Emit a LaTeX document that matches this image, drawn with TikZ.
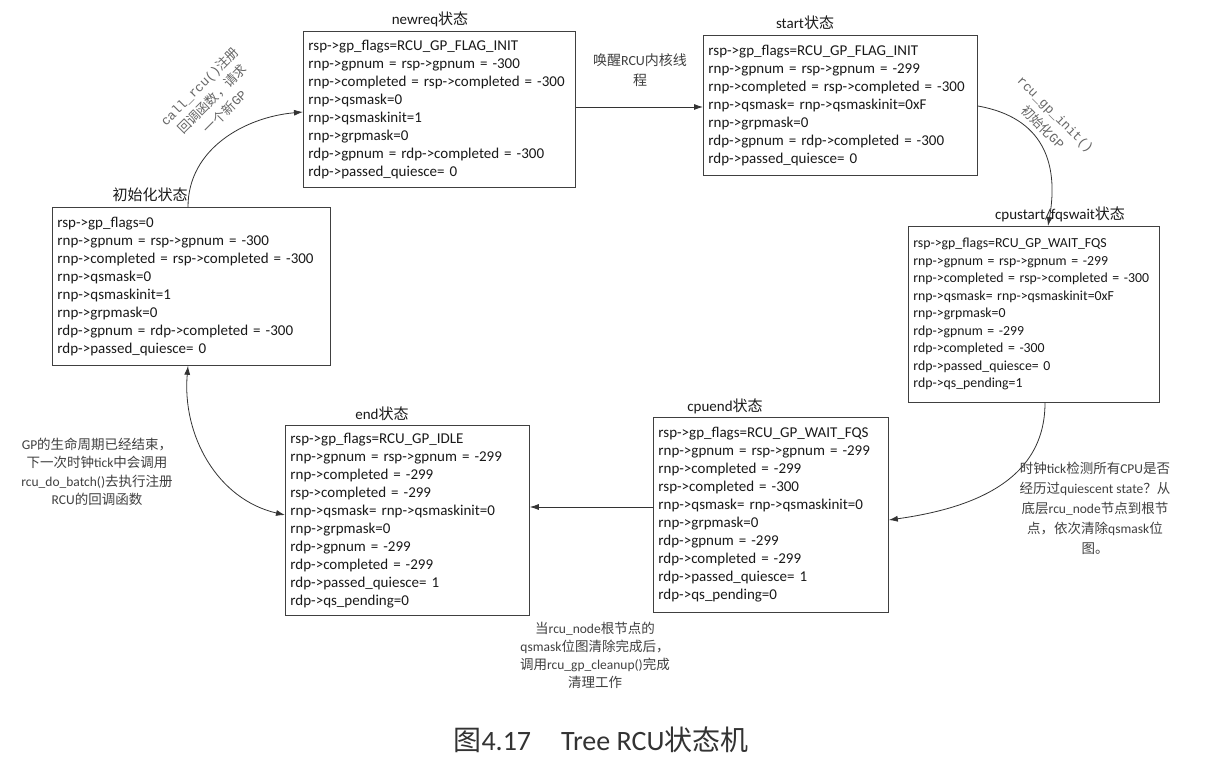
\documentclass[tikz,border=0pt]{standalone}
\usepackage{fontspec}
\setmainfont{Carlito}
\newfontfamily\cjk{Noto Sans CJK SC}
\newfontfamily\monof{Liberation Mono}
\usetikzlibrary{arrows.meta,calc}
\newcommand{\zh}[1]{{\cjk #1}}
\begin{document}
\begin{tikzpicture}[x=1pt,y=1pt,
  box/.style={draw=black!75, line width=0.8pt, anchor=north west, align=left,
    inner xsep=5pt, inner ysep=0pt, font=\fontsize{15}{18}\selectfont, text=black!90},
  ttl/.style={anchor=base, inner sep=0pt, font=\fontsize{15}{18}\selectfont, text=black!90},
  lbl/.style={align=center, inner sep=0pt, font=\fontsize{13.5}{18.5}\selectfont, text=black!75},
  rlbl/.style={align=center, inner sep=0pt, font=\fontsize{13}{18}\selectfont, text=black!60},
  conn/.style={draw=black!80, line width=0.8pt, -{Latex[length=9pt,width=6pt]}},
  conn2/.style={draw=black!80, line width=0.8pt, {Latex[length=9pt,width=6pt]}-{Latex[length=9pt,width=6pt]}}]
\fill[white] (0,0) rectangle (1206,-767);
\useasboundingbox (0,0) rectangle (1206,-767);

% boxes
\node[box, text width=268pt, minimum height=158pt] (init) at (52,-207) {%
rsp->gp\_flags=0\\
rnp->gpnum = rsp->gpnum = -300\\
rnp->completed = rsp->completed = -300\\
rnp->qsmask=0\\
rnp->qsmaskinit=1\\
rnp->grpmask=0\\
rdp->gpnum = rdp->completed = -300\\
rdp->passed\_quiesce= 0};

\node[box, text width=262pt, minimum height=156pt] (newreq) at (303,-31) {%
rsp->gp\_flags=RCU\_GP\_FLAG\_INIT\\
rnp->gpnum = rsp->gpnum = -300\\
rnp->completed = rsp->completed = -300\\
rnp->qsmask=0\\
rnp->qsmaskinit=1\\
rnp->grpmask=0\\
rdp->gpnum = rdp->completed = -300\\
rdp->passed\_quiesce= 0};

\node[box, text width=264pt, minimum height=140pt] (start) at (703,-35) {%
rsp->gp\_flags=RCU\_GP\_FLAG\_INIT\\
rnp->gpnum = rsp->gpnum = -299\\
rnp->completed = rsp->completed = -300\\
rnp->qsmask= rnp->qsmaskinit=0xF\\
rnp->grpmask=0\\
rdp->gpnum = rdp->completed = -300\\
rdp->passed\_quiesce= 0};

\node[box, text width=241pt, minimum height=176pt, font=\fontsize{13.8}{17.5}\selectfont] (cpustart) at (908,-226) {%
rsp->gp\_flags=RCU\_GP\_WAIT\_FQS\\
rnp->gpnum = rsp->gpnum = -299\\
rnp->completed = rsp->completed = -300\\
rnp->qsmask= rnp->qsmaskinit=0xF\\
rnp->grpmask=0\\
rdp->gpnum = -299\\
rdp->completed = -300\\
rdp->passed\_quiesce= 0\\
rdp->qs\_pending=1};

\node[box, text width=225pt, minimum height=195pt] (cpuend) at (653,-417) {%
rsp->gp\_flags=RCU\_GP\_WAIT\_FQS\\
rnp->gpnum = rsp->gpnum = -299\\
rnp->completed = -299\\
rsp->completed = -300\\
rnp->qsmask= rnp->qsmaskinit=0\\
rnp->grpmask=0\\
rdp->gpnum = -299\\
rdp->completed = -299\\
rdp->passed\_quiesce= 1\\
rdp->qs\_pending=0};

\node[box, text width=234pt, minimum height=190pt] (end) at (285,-425) {%
rsp->gp\_flags=RCU\_GP\_IDLE\\
rnp->gpnum = rsp->gpnum = -299\\
rnp->completed = -299\\
rsp->completed = -299\\
rnp->qsmask= rnp->qsmaskinit=0\\
rnp->grpmask=0\\
rdp->gpnum = -299\\
rdp->completed = -299\\
rdp->passed\_quiesce= 1\\
rdp->qs\_pending=0};

% titles
\node[ttl] (tinit) at ($(init.north west)+(98,6)$) {\zh{初始化状态}};
\node[ttl] (tnewreq) at ($(newreq.north west)+(127,6)$) {newreq\zh{状态}};
\node[ttl] (tstart) at ($(start.north west)+(102,6)$) {start\zh{状态}};
\node[ttl] (tcpustart) at ($(cpustart.north west)+(152,6)$) {cpustart/fqswait\zh{状态}};
\node[ttl] (tcpuend) at ($(cpuend.north west)+(72,6)$) {cpuend\zh{状态}};
\node[ttl] (tend) at ($(end.north west)+(97,6)$) {end\zh{状态}};

% connectors
\draw[conn] ($(init.north west)+(136,0)$) to[out=90,in=185] ($(newreq.north west)+(0,-81)$);
\draw[conn] ($(newreq.north east)+(0,-76)$) -- ($(start.north west)+(0,-72)$);
\draw[conn] ($(start.north east)+(0,-71)$) to[out=-10,in=80,looseness=1.2] ($(cpustart.north west)+(140,0)$);
\draw[conn] ($(cpustart.south west)+(137,0)$) to[out=-90,in=8,looseness=1.05] ($(cpuend.north east)+(0,-103)$);
\draw[conn] ($(cpuend.north west)+(0,-90)$) -- ($(end.north east)+(0,-82)$);
\draw[conn2] ($(init.south west)+(136,0)$) to[out=-95,in=167] ($(end.north west)+(0,-90)$);

% labels
\node[lbl, font=\fontsize{14}{20}\selectfont] (lwake) at (640,-70) {\zh{唤醒}RCU\zh{内核线}\\\zh{程}};
\node[rlbl, rotate=45] (lcall) at (212,-99) {{\monof call\_rcu()}\zh{注册}\\\zh{回调函数，请求}\\\zh{一个新}{\monof GP}};
\node[rlbl, rotate=-45] (lgpinit) at (1049,-121) {{\monof rcu\_gp\_init()}\\\zh{初始化}{\monof GP}};
\node[lbl, font=\fontsize{13.5}{20}\selectfont] (lqs) at (1095,-508) {\zh{时钟}tick\zh{检测所有}CPU\zh{是否}\\\zh{经历过}quiescent state\zh{？从}\\\zh{底层}rcu\_node\zh{节点到根节}\\\zh{点，依次清除}qsmask\zh{位}\\\zh{图。}};
\node[lbl, font=\fontsize{13.5}{18}\selectfont] (lclean) at (595,-655) {\zh{当}rcu\_node\zh{根节点的}\\qsmask\zh{位图清除完成后，}\\\zh{调用}rcu\_gp\_cleanup()\zh{完成}\\\zh{清理工作}};
\node[lbl] (lgp) at (97,-472) {GP\zh{的生命周期已经结束，}\\\zh{下一次时钟}tick\zh{中会调用}\\rcu\_do\_batch()\zh{去执行注册}\\RCU\zh{的回调函数}};

% caption
\node[inner sep=0pt, font=\fontsize{28}{30}\selectfont, text=black!80] (caption) at (601,-740) {\zh{图}4.17\hspace{30pt}Tree RCU\zh{状态机}};
\end{tikzpicture}
\end{document}
